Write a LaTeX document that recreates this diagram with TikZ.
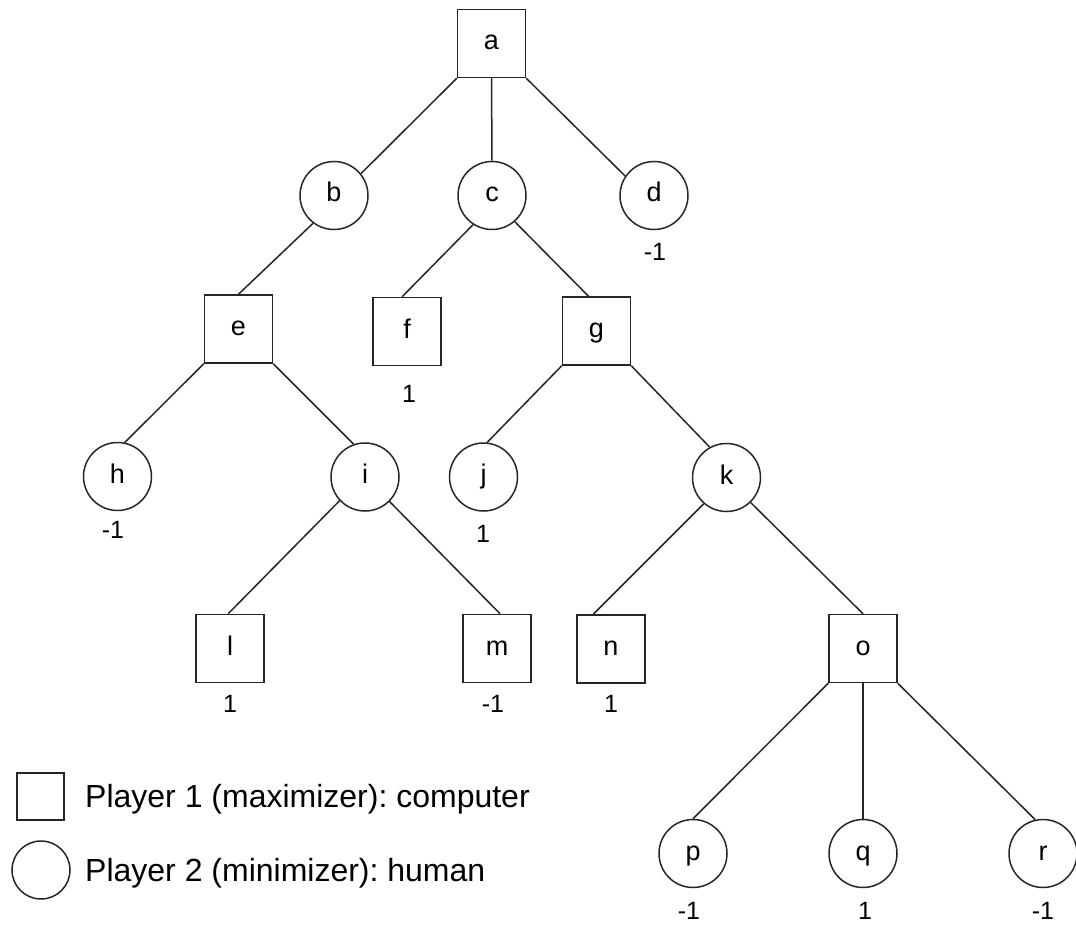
\documentclass[tikz,border=0pt]{standalone}
\usepackage{fontspec}
\setmainfont{Liberation Sans}
\frenchspacing
\begin{document}
\begin{tikzpicture}[x=1pt,y=-1pt,
  edge/.style={line width=1.5pt,draw=black!85},
  nodetext/.style={font=\fontsize{27}{27}\selectfont,text height=19pt,text depth=6pt},
  maxbox/.style={draw=black!85,line width=1.5pt,rectangle,minimum size=68pt,inner sep=0pt,nodetext},
  minball/.style={draw=black!85,line width=1.5pt,circle,minimum size=68pt,inner sep=0pt,nodetext},
  val/.style={inner sep=0pt,font=\fontsize{25}{25}\selectfont},
  legtext/.style={inner sep=0pt,anchor=base west,font=\fontsize{32}{32}\selectfont}]
\useasboundingbox (0,0) rectangle (1076,925);
% tree nodes
\node[maxbox]  (a) at (491.5,43.5) {a};
\node[minball] (b) at (334,195.5) {b};
\node[minball] (c) at (492,195.5) {c};
\node[minball] (d) at (654,195.5) {d};
\node[maxbox]  (e) at (238.5,329) {e};
\node[maxbox]  (f) at (407,331.5) {f};
\node[maxbox]  (g) at (596.5,331) {g};
\node[minball] (h) at (117.5,476.5) {h};
\node[minball] (i) at (365,477) {i};
\node[minball] (j) at (483.5,477) {j};
\node[minball] (k) at (726.5,477.5) {k};
\node[maxbox]  (l) at (230,648.5) {l};
\node[maxbox]  (m) at (497,648.5) {m};
\node[maxbox]  (n) at (611,649) {n};
\node[maxbox]  (o) at (863,648.5) {o};
\node[minball] (p) at (693,853.5) {p};
\node[minball] (q) at (863,853.5) {q};
\node[minball] (r) at (1043,853.5) {r};
% values
\node[val] (vd) at (655,252) {-1};
\node[val] (vf) at (409,394) {1};
\node[val] (vh) at (113,530) {-1};
\node[val] (vj) at (483,534) {1};
\node[val] (vl) at (230,704) {1};
\node[val] (vm) at (493,704) {-1};
\node[val] (vn) at (611,704) {1};
\node[val] (vp) at (689,911) {-1};
\node[val] (vq) at (865,911) {1};
\node[val] (vr) at (1043,911) {-1};
% edges
\draw[edge] (a.south west) -- (b.39);
\draw[edge] (a.south) -- (c.north);
\draw[edge] (a.south east) -- (d.146);
\draw[edge] (b.233) -- (e.north);
\draw[edge] (c.237) -- (f.98);
\draw[edge] (c.311) -- (g.103);
\draw[edge] (e.south west) -- (h.78);
\draw[edge] (e.south east) -- (i.109);
\draw[edge] (g.south west) -- (j.84);
\draw[edge] (g.south east) -- (k.119);
\draw[edge] (i.223) -- (l.93);
\draw[edge] (i.315) -- (m.85);
\draw[edge] (k.229) -- (n.117);
\draw[edge] (k.314) -- (o.north);
\draw[edge] (o.south west) -- (p.north);
\draw[edge] (o.south) -- (q.north);
\draw[edge] (o.south east) -- (r.103);
% legend
\node[draw=black!85,line width=1.5pt,rectangle,minimum size=47pt,inner sep=0pt] (legsq) at (40.5,796.5) {};
\node[draw=black!85,line width=1.5pt,circle,minimum size=58pt,inner sep=0pt] (legci) at (41,870) {};
\node[legtext] (leg1) at (85,807.5) {Player 1 (maximizer): computer};
\node[legtext] (leg2) at (85,881) {Player 2 (minimizer): human};
\end{tikzpicture}
\end{document}
